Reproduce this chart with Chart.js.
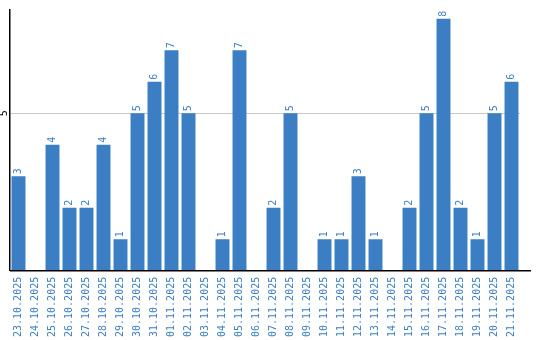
<!DOCTYPE html>
<html>
<head>
<meta charset="utf-8">
<script src="https://cdn.jsdelivr.net/npm/chart.js@4"></script>
<style>
  body { margin: 0; background: #fff; }
</style>
</head>
<body>
<canvas id="chart" width="540" height="340"></canvas>
<script>
const dates = [
  "23.10.2025", "24.10.2025", "25.10.2025", "26.10.2025", "27.10.2025",
  "28.10.2025", "29.10.2025", "30.10.2025", "31.10.2025", "01.11.2025",
  "02.11.2025", "03.11.2025", "04.11.2025", "05.11.2025", "06.11.2025",
  "07.11.2025", "08.11.2025", "09.11.2025", "10.11.2025", "11.11.2025",
  "12.11.2025", "13.11.2025", "14.11.2025", "15.11.2025", "16.11.2025",
  "17.11.2025", "18.11.2025", "19.11.2025", "20.11.2025", "21.11.2025"
];
const counts = [3, 0, 4, 2, 2, 4, 1, 5, 6, 7, 5, 0, 1, 7, 0, 2, 5, 0, 1, 1, 3, 1, 0, 2, 5, 8, 2, 1, 5, 6];
const yTicks = [5];

const blue = "#3b7ec4";
const monoFont = "DejaVu Sans Mono";

// values above bars + rotated y tick + longer baseline
const extras = {
  id: "extras",
  afterDatasetsDraw(chart) {
    const ctx = chart.ctx;
    const meta = chart.getDatasetMeta(0);
    ctx.save();
    ctx.fillStyle = blue;
    ctx.font = "10px " + monoFont;
    ctx.textAlign = "left";
    ctx.textBaseline = "middle";
    meta.data.forEach((bar, i) => {
      if (!counts[i]) return;
      ctx.save();
      ctx.translate(bar.x, bar.y - 2);
      ctx.rotate(-Math.PI / 2);
      ctx.fillText(String(counts[i]), 0, 0);
      ctx.restore();
    });
    const y = chart.scales.y;
    ctx.fillStyle = "#000";
    ctx.textAlign = "center";
    yTicks.forEach((v) => {
      ctx.save();
      ctx.translate(chart.chartArea.left - 6, y.getPixelForValue(v));
      ctx.rotate(-Math.PI / 2);
      ctx.fillText(String(v), 0, 0);
      ctx.restore();
    });
    const a = chart.chartArea;
    ctx.strokeStyle = "#000";
    ctx.lineWidth = 1.5;
    ctx.beginPath();
    ctx.moveTo(a.left, a.bottom);
    ctx.lineTo(a.right + 11, a.bottom);
    ctx.stroke();
    ctx.restore();
  }
};

new Chart(document.getElementById("chart").getContext("2d"), {
  type: "bar",
  data: {
    labels: dates,
    datasets: [{
      data: counts,
      backgroundColor: blue,
      barPercentage: 1,
      categoryPercentage: 0.82
    }]
  },
  options: {
    responsive: false,
    animation: false,
    layout: { padding: { left: 10, top: 10, right: 20, bottom: -3 } },
    plugins: { legend: { display: false }, tooltip: { enabled: false } },
    scales: {
      x: {
        grid: { display: false, drawTicks: false },
        border: { display: false },
        ticks: {
          color: blue,
          font: { family: monoFont, size: 10 },
          minRotation: 90,
          maxRotation: 90,
          autoSkip: false,
          padding: 6
        }
      },
      y: {
        min: 0,
        max: 8.28,
        afterBuildTicks: (s) => { s.ticks = yTicks.map((v) => ({ value: v })); },
        grid: { color: "#c8c8c8", drawTicks: false },
        border: { color: "#000", width: 1.5 },
        ticks: { display: false }
      }
    }
  },
  plugins: [extras]
});
</script>
</body>
</html>
